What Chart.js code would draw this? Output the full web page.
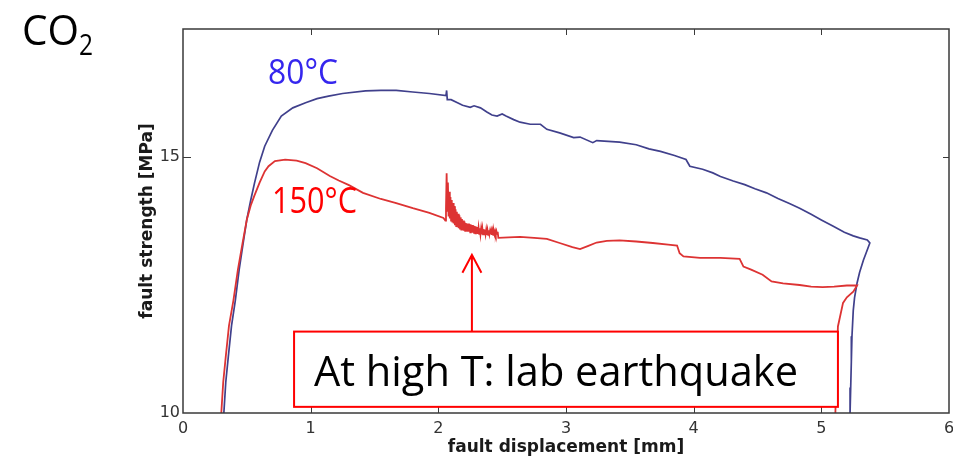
<!DOCTYPE html>
<html>
<head>
<meta charset="utf-8">
<title>CO2 - fault strength</title>
<script src="https://cdn.jsdelivr.net/npm/chart.js@4.4.1/dist/chart.umd.min.js"></script>
<style>
  html, body { margin: 0; padding: 0; background: #fff; }
  #wrap { width: 953px; height: 458px; position: relative; }
</style>
</head>
<body>
<div id="wrap"><canvas id="faultChart"></canvas></div>
<script>
// --- DATA ---
const disp80 = [0.32, 0.335, 0.355, 0.38, 0.41, 0.44, 0.47, 0.50, 0.53, 0.56, 0.60, 0.64, 0.70, 0.77, 0.86, 0.96,
  1.05, 1.14, 1.25, 1.43, 1.55, 1.67, 1.80, 1.93, 2.06, 2.065, 2.07, 2.10, 2.15, 2.19, 2.25, 2.28, 2.33, 2.38,
  2.42, 2.46, 2.50, 2.53, 2.59, 2.64, 2.72, 2.80, 2.85, 2.95, 3.06, 3.11, 3.21, 3.24, 3.30, 3.42, 3.55, 3.65,
  3.74, 3.85, 3.94, 3.97, 4.07, 4.15, 4.21, 4.31, 4.40, 4.48, 4.57, 4.66, 4.75, 4.83, 4.92, 5.00, 5.09, 5.18,
  5.25, 5.30, 5.36, 5.38, 5.35, 5.33, 5.30, 5.28, 5.26, 5.25, 5.24, 5.235, 5.23, 5.225];
const strength80 = [10.0, 10.6, 11.1, 11.7, 12.2, 12.8, 13.3, 13.78, 14.15, 14.49, 14.9, 15.21, 15.52, 15.80, 15.96, 16.06,
  16.14, 16.19, 16.24, 16.29, 16.30, 16.30, 16.27, 16.24, 16.20, 16.30, 16.12, 16.12, 16.06, 16.01, 15.97, 16.00, 15.96, 15.88,
  15.82, 15.80, 15.84, 15.80, 15.73, 15.68, 15.64, 15.64, 15.54, 15.47, 15.38, 15.39, 15.28, 15.32, 15.31, 15.29, 15.24, 15.16,
  15.11, 15.03, 14.95, 14.82, 14.76, 14.69, 14.62, 14.53, 14.46, 14.38, 14.30, 14.19, 14.09, 14.00, 13.88, 13.77, 13.65, 13.53,
  13.46, 13.42, 13.38, 13.32, 13.12, 12.99, 12.75, 12.54, 12.25, 12.0, 11.5, 11.0, 10.5, 10.0];

const disp150 = [0.30, 0.315, 0.335, 0.36, 0.395, 0.43, 0.465, 0.50, 0.53, 0.56, 0.60, 0.64, 0.67, 0.72, 0.80, 0.89,
  0.96, 1.05, 1.15, 1.22, 1.30, 1.41, 1.55, 1.67, 1.80, 1.93, 2.04, 2.055, 2.06, 2.065,
  2.070, 2.075, 2.080, 2.085, 2.090, 2.095, 2.100, 2.105, 2.110, 2.115, 2.120, 2.125, 2.130, 2.135, 2.140, 2.145,
  2.150, 2.155, 2.160, 2.165, 2.170, 2.175, 2.180, 2.185, 2.190, 2.195, 2.200, 2.205, 2.210, 2.215, 2.220, 2.225,
  2.230, 2.235, 2.240, 2.245, 2.250, 2.255, 2.260, 2.265, 2.270, 2.275, 2.280, 2.285, 2.290, 2.295, 2.300, 2.305,
  2.310, 2.315, 2.320, 2.325, 2.330, 2.335, 2.340, 2.345, 2.350, 2.355, 2.360, 2.365, 2.370, 2.375, 2.380, 2.385,
  2.390, 2.395, 2.400, 2.405, 2.410, 2.415, 2.420, 2.425, 2.430, 2.435, 2.440, 2.445, 2.450, 2.455, 2.460, 2.465,
  2.47, 2.55, 2.64, 2.75, 2.85, 2.95, 3.05, 3.11, 3.17, 3.24, 3.32, 3.42, 3.55, 3.68, 3.80, 3.87, 3.89, 3.92,
  4.05, 4.21, 4.36, 4.39, 4.45, 4.54, 4.61, 4.70, 4.83, 4.92, 5.01, 5.10, 5.20, 5.28, 5.25, 5.20, 5.17, 5.13,
  5.12, 5.11];
const strength150 = [10.0, 10.6, 11.1, 11.7, 12.2, 12.8, 13.3, 13.78, 14.05, 14.25, 14.5, 14.72, 14.82, 14.92, 14.95, 14.93,
  14.88, 14.78, 14.63, 14.54, 14.45, 14.30, 14.18, 14.10, 14.00, 13.91, 13.81, 13.76, 14.0, 14.68,
  13.95, 14.50, 13.84, 14.32, 13.80, 14.22, 13.76, 14.16, 13.72, 14.10, 13.70, 14.04, 13.67, 13.98, 13.65, 13.93,
  13.63, 13.89, 13.61, 13.86, 13.60, 13.82, 13.58, 13.79, 13.57, 13.76, 13.56, 13.74, 13.56, 13.71, 13.55, 13.70,
  13.54, 13.70, 13.54, 13.69, 13.53, 13.68, 13.53, 13.67, 13.52, 13.66, 13.52, 13.65, 13.51, 13.64, 13.51, 13.63,
  13.50, 13.62, 13.50, 13.61, 13.49, 13.60, 13.49, 13.60, 13.49, 13.59, 13.49, 13.58, 13.49, 13.58, 13.48, 13.57,
  13.48, 13.57, 13.49, 13.56, 13.49, 13.56, 13.48, 13.56, 13.48, 13.55, 13.49, 13.55, 13.49, 13.55, 13.50, 13.54,
  13.42, 13.43, 13.44, 13.42, 13.40, 13.32, 13.24, 13.20, 13.26, 13.33, 13.36, 13.37, 13.35, 13.32, 13.29, 13.27, 13.12, 13.06,
  13.03, 13.03, 13.01, 12.86, 12.80, 12.70, 12.57, 12.53, 12.50, 12.47, 12.46, 12.47, 12.49, 12.49, 12.37, 12.26, 12.15, 11.69,
  11.0, 10.0];

const xTickValues = [0, 1, 2, 3, 4, 5, 6];
const yTickValues = [10, 15];

// --- HELPERS ---
const toPoints = (xs, ys) => xs.map((v, i) => ({ x: v, y: ys[i] }));

// draws text at a given size, squeezed to the width measured in the picture
function drawFitted(ctx, text, x, y, size, width, color) {
    ctx.save();
    ctx.font = `${size}px "Open Sans"`;
    ctx.fillStyle = color;
    ctx.textBaseline = 'alphabetic';
    ctx.textAlign = 'left';
    const w = ctx.measureText(text).width;
    ctx.translate(x, y);
    ctx.scale(width / w, 1);
    ctx.fillText(text, 0, 0);
    ctx.restore();
}

// --- PLUGIN: frame, inward ticks, labels and the annotation box ---
const framePlugin = {
    id: 'frame',
    afterDatasetsDraw(chart) {
        const { ctx, chartArea: a, scales: { x, y } } = chart;

        // frame
        ctx.save();
        ctx.strokeStyle = '#3a3a3a';
        ctx.lineWidth = 1.5;
        ctx.strokeRect(a.left, a.top, a.right - a.left, a.bottom - a.top);

        // inward ticks
        ctx.lineWidth = 1;
        ctx.beginPath();
        xTickValues.slice(1, -1).forEach(v => {
            const px = Math.round(x.getPixelForValue(v)) + 0.5;
            ctx.moveTo(px, a.bottom); ctx.lineTo(px, a.bottom - 6);
            ctx.moveTo(px, a.top); ctx.lineTo(px, a.top + 6);
        });
        yTickValues.slice(1).forEach(v => {
            const py = Math.round(y.getPixelForValue(v)) + 0.5;
            ctx.moveTo(a.left, py); ctx.lineTo(a.left + 8, py);
            ctx.moveTo(a.right, py); ctx.lineTo(a.right - 6, py);
        });
        ctx.stroke();
        ctx.restore();

        // curve labels
        drawFitted(ctx, '80°C', x.getPixelForValue(0.666), y.getPixelForValue(16.42), 35, 70, '#3526ee');
        drawFitted(ctx, '150°C', x.getPixelForValue(0.697), y.getPixelForValue(13.91), 36, 85, '#ff0000');

        // annotation box
        const bx0 = x.getPixelForValue(0.87), bx1 = x.getPixelForValue(5.13);
        const by0 = y.getPixelForValue(11.59), by1 = y.getPixelForValue(10.12);
        ctx.save();
        ctx.fillStyle = '#ffffff';
        ctx.fillRect(bx0, by0, bx1 - bx0, by1 - by0);
        ctx.strokeStyle = '#ff0000';
        ctx.lineWidth = 2;
        ctx.strokeRect(bx0, by0, bx1 - bx0, by1 - by0);

        // arrow
        const ax = x.getPixelForValue(2.263);
        const tip = y.getPixelForValue(13.09);
        ctx.beginPath();
        ctx.moveTo(ax, by0);
        ctx.lineTo(ax, tip);
        ctx.moveTo(ax - 9.5, tip + 18);
        ctx.lineTo(ax, tip);
        ctx.lineTo(ax + 9.5, tip + 18);
        ctx.stroke();
        ctx.restore();

        drawFitted(ctx, 'At high T: lab earthquake', x.getPixelForValue(1.026), y.getPixelForValue(10.534), 42, 484, '#000000');
    },
    afterDraw(chart) {
        const { ctx } = chart;
        drawFitted(ctx, 'CO', 22, 45, 42, 57, '#000000');
        drawFitted(ctx, '2', 79, 55, 30, 14, '#000000');
    }
};

// --- CHART ---
const chartCanvas = document.getElementById('faultChart');

new Chart(chartCanvas, {
    type: 'scatter',
    data: {
        datasets: [
            {
                label: '150°C',
                data: toPoints(disp150, strength150),
                showLine: true,
                borderColor: '#dd3333',
                borderWidth: 1.8,
                pointRadius: 0,
                tension: 0
            },
            {
                label: '80°C',
                data: toPoints(disp80, strength80),
                showLine: true,
                borderColor: '#40408c',
                borderWidth: 1.7,
                pointRadius: 0,
                tension: 0
            }
        ]
    },
    options: {
        responsive: true,
        maintainAspectRatio: false,
        animation: false,
        layout: { padding: { left: 0, top: 29, right: 4, bottom: 0 } },
        plugins: {
            legend: { display: false },
            tooltip: { enabled: false }
        },
        scales: {
            x: {
                type: 'linear',
                min: 0,
                max: 6,
                grid: { display: false, drawTicks: false },
                border: { display: false },
                afterBuildTicks: s => { s.ticks = xTickValues.map(v => ({ value: v })); },
                afterFit: s => { s.height = 45; s.paddingLeft = 0; s.paddingRight = 0; },
                ticks: {
                    maxRotation: 0,
                    autoSkip: false,
                    padding: 6,
                    color: '#333333',
                    font: { family: 'DejaVu Sans', size: 16 }
                },
                title: {
                    display: true,
                    text: 'fault displacement [mm]',
                    color: '#1a1a1a',
                    padding: { top: 0, bottom: 0 },
                    font: { family: 'DejaVu Sans', size: 17, weight: 'bold', lineHeight: 1.2 }
                }
            },
            y: {
                type: 'linear',
                min: 10,
                max: 17.5,
                grid: { display: false, drawTicks: false },
                border: { display: false },
                afterBuildTicks: s => { s.ticks = yTickValues.map(v => ({ value: v })); },
                afterFit: s => { s.width = 183; s.paddingTop = 0; s.paddingBottom = 0; },
                ticks: {
                    padding: 3,
                    color: '#333333',
                    font: { family: 'DejaVu Sans', size: 16 }
                },
                title: {
                    display: true,
                    text: 'fault strength [MPa]',
                    color: '#1a1a1a',
                    padding: { top: 137, bottom: 0 },
                    font: { family: 'DejaVu Sans', size: 17, weight: 'bold', lineHeight: 1.2 }
                }
            }
        }
    },
    plugins: [framePlugin]
});
</script>
</body>
</html>
